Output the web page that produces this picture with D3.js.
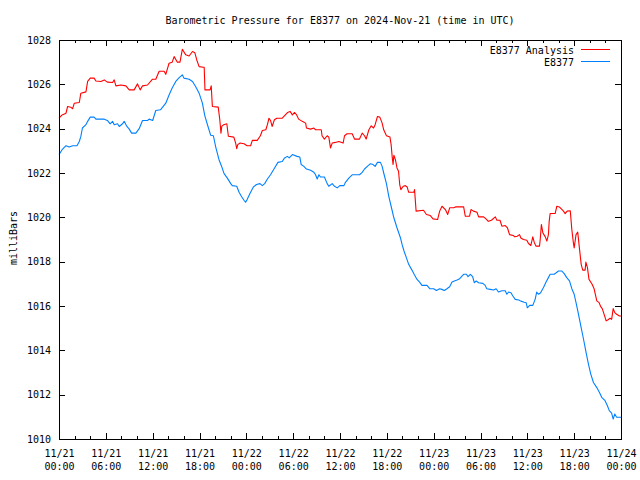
<!DOCTYPE html>
<html>
<head>
<meta charset="utf-8">
<script src="https://cdn.jsdelivr.net/npm/d3@7"></script>
<style>
  html, body { margin: 0; padding: 0; background: #fff; }
  svg { display: block; }
  text { font-family: "DejaVu Sans Mono", "Liberation Mono", monospace; font-size: 10px; fill: #000; }
</style>
</head>
<body>
<svg id="chart" width="640" height="480"></svg>
<script>
// ---- Data (hours since 2024-11-21 00:00 UTC) ----
const chartTitle = "Barometric Pressure for E8377 on 2024-Nov-21 (time in UTC)";
const yLabel = "milliBars";
const seriesNames = ["E8377 Analysis", "E8377"];

const analysisHours = [0,0.4,0.9,1.1,1.5,1.75,1.96,2.6,2.8,3.45,3.67,4.0,4.5,4.73,5.37,5.8,6.2,6.86,7.07,7.29,7.93,8.57,9.0,9.63,10.06,10.4,10.7,11.34,11.98,12.4,12.83,13.47,13.68,14.1,14.5,14.75,15.17,15.5,15.8,16.24,16.67,17.1,17.4,17.65,17.95,18.5,18.6,18.7,19.35,19.5,19.65,20.4,20.6,20.75,20.85,21.1,21.5,21.7,22.4,22.63,22.77,22.9,23.2,23.7,24.1,24.55,24.77,25.4,25.8,26.05,26.5,26.7,26.9,27.1,27.3,27.6,27.9,28.6,29.0,29.3,29.6,29.9,30.18,30.45,30.7,31.16,31.6,31.7,32.23,32.66,32.87,33.6,33.7,34.0,34.36,34.57,34.78,35.0,35.4,35.85,36.4,36.58,36.9,37.56,37.86,38.5,38.84,39.14,39.35,39.7,40.0,40.3,40.5,40.8,41.1,41.4,41.6,41.95,42.4,42.55,42.7,42.8,42.9,43.1,43.3,43.5,43.65,43.8,44.1,44.38,44.6,44.8,45.45,45.55,45.75,46.7,47.07,47.57,47.92,48.5,48.77,49.07,49.5,49.8,50.05,50.56,50.8,51.84,52.05,52.6,52.78,53.1,53.55,53.76,54.4,54.7,55.0,55.4,55.9,56.1,56.5,56.74,57.17,57.46,57.72,58.2,58.4,58.7,59.0,59.17,59.5,59.94,60.15,60.45,60.7,60.88,61.1,61.56,61.65,61.8,61.99,62.3,62.5,62.7,62.8,62.92,63.56,63.78,64.1,64.63,64.85,65.1,65.5,65.7,65.9,66.0,66.24,66.46,66.6,66.76,66.9,67.1,67.4,67.5,67.7,67.9,68.3,68.55,68.9,69.2,69.4,69.6,69.83,70.1,70.35,70.6,70.8,71.0,71.2,71.44,71.8,72.0];
const analysisValues = [1024.47,1024.62,1024.7,1025.0,1024.97,1024.9,1025.15,1025.18,1025.6,1025.66,1026.13,1026.28,1026.28,1026.15,1026.13,1026.2,1026.1,1026.08,1026.2,1025.93,1025.97,1025.93,1025.75,1025.75,1026.02,1025.75,1025.93,1025.97,1026.23,1026.23,1026.59,1026.59,1026.45,1026.95,1027.0,1027.25,1027.0,1027.0,1027.58,1027.33,1027.28,1027.48,1027.43,1027.1,1026.8,1026.77,1026.77,1025.75,1025.75,1025.93,1025.0,1024.97,1024.4,1023.8,1024.1,1024.18,1024.22,1023.66,1023.62,1023.35,1023.1,1023.28,1023.35,1023.32,1023.23,1023.23,1023.47,1023.47,1023.68,1023.92,1023.95,1024.18,1024.47,1024.37,1024.1,1024.4,1024.47,1024.47,1024.62,1024.73,1024.78,1024.62,1024.73,1024.62,1024.43,1024.33,1024.25,1024.03,1023.98,1024.03,1023.95,1023.95,1023.68,1023.53,1023.68,1023.62,1023.13,1023.35,1023.38,1023.42,1023.35,1023.68,1023.77,1023.77,1023.53,1023.53,1023.8,1023.68,1023.53,1023.95,1024.13,1024.03,1024.18,1024.55,1024.52,1024.25,1023.95,1023.68,1023.62,1023.28,1022.68,1022.38,1022.8,1022.6,1022.23,1022.08,1021.48,1021.25,1021.4,1021.43,1021.37,1021.13,1021.13,1021.25,1020.28,1020.32,1020.13,1020.08,1019.93,1019.9,1020.28,1020.5,1020.35,1020.13,1020.43,1020.43,1020.47,1020.47,1020.05,1020.05,1020.35,1020.28,1020.23,1020.02,1020.02,1019.93,1019.82,1019.87,1020.02,1019.87,1019.87,1019.6,1019.63,1019.52,1019.22,1019.18,1019.12,1019.15,1019.22,1019.07,1019.0,1018.97,1018.82,1018.73,1019.12,1018.88,1018.7,1018.7,1019.0,1019.68,1019.3,1019.12,1018.93,1019.22,1019.82,1020.17,1020.17,1020.5,1020.47,1020.28,1020.17,1020.28,1020.3,1019.45,1018.85,1018.62,1019.22,1019.33,1018.85,1018.33,1017.88,1017.62,1017.62,1017.98,1017.73,1017.2,1016.98,1016.78,1016.23,1016.15,1015.97,1015.88,1015.63,1015.33,1015.38,1015.45,1015.4,1015.88,1015.7,1015.63,1015.55,1015.55];

const stationHours = [0,0.4,0.9,1.3,1.75,2.3,2.6,2.8,3.0,3.45,3.67,4.0,4.5,4.73,5.8,6.2,6.55,6.86,7.07,7.5,7.72,8.14,8.35,8.7,9.0,9.3,9.85,10.27,10.7,11.34,11.55,12.0,12.4,13.0,13.68,14.1,14.5,14.96,15.4,15.8,16.0,16.67,17.1,17.5,17.95,18.37,18.67,19.0,19.44,19.78,20.08,20.5,20.8,21.15,21.57,22.0,22.2,22.77,23.07,23.36,23.7,23.9,24.1,24.5,24.9,25.3,25.75,26.05,26.35,26.7,27.1,27.54,28.05,28.6,28.9,29.25,29.5,29.9,30.5,30.85,31.03,31.37,31.7,32.23,32.66,32.87,33.08,33.3,33.5,34.0,34.36,34.57,35.0,35.3,35.64,35.98,36.5,36.7,37.13,37.56,38.5,38.84,39.14,39.5,39.9,40.24,40.5,40.8,41.18,41.4,41.6,41.95,42.25,42.55,42.9,43.3,43.74,43.95,44.2,44.5,44.8,45.2,45.5,45.87,46.2,46.5,47.15,47.5,48.0,48.35,48.77,49.05,49.36,49.7,50.05,50.35,50.65,51.0,51.33,51.63,51.84,52.2,52.4,52.7,53.0,53.2,53.45,53.76,54.3,54.6,54.8,55.25,55.68,56.0,56.3,56.74,57.17,57.38,57.6,57.9,58.15,58.45,58.9,59.17,59.6,59.85,60.0,60.3,60.7,61.0,61.2,61.43,61.7,62.07,62.4,62.7,62.92,63.43,63.7,63.99,64.4,64.7,65.05,65.4,65.7,66.0,66.24,66.55,66.85,67.2,67.53,67.83,68.13,68.47,68.9,69.24,69.53,69.96,70.26,70.5,70.8,71.0,71.2,71.44,71.8,72.0];
const stationValues = [1022.83,1023.05,1023.23,1023.17,1023.23,1023.23,1023.42,1023.65,1024.03,1024.18,1024.33,1024.52,1024.52,1024.43,1024.43,1024.37,1024.22,1024.33,1024.18,1024.22,1024.1,1024.22,1024.33,1024.1,1023.98,1023.8,1023.8,1024.0,1024.37,1024.37,1024.43,1024.37,1024.82,1024.85,1025.15,1025.52,1025.83,1026.13,1026.3,1026.43,1026.28,1026.23,1026.13,1025.9,1025.6,1025.15,1024.6,1024.2,1023.7,1023.68,1023.17,1022.6,1022.33,1021.97,1021.77,1021.52,1021.43,1021.4,1021.13,1020.95,1020.77,1020.68,1020.8,1021.1,1021.37,1021.48,1021.52,1021.43,1021.52,1021.73,1021.92,1022.18,1022.48,1022.52,1022.68,1022.75,1022.68,1022.83,1022.75,1022.72,1022.38,1022.3,1022.18,1022.12,1022.03,1021.92,1021.73,1021.92,1021.82,1021.82,1021.52,1021.4,1021.52,1021.4,1021.33,1021.43,1021.43,1021.58,1021.77,1021.92,1021.92,1022.03,1022.18,1022.3,1022.42,1022.38,1022.3,1022.48,1022.48,1022.3,1022.0,1021.52,1020.95,1020.5,1019.98,1019.53,1019.08,1018.78,1018.48,1018.18,1017.88,1017.63,1017.43,1017.2,1017.08,1016.93,1016.93,1016.78,1016.78,1016.7,1016.78,1016.75,1016.7,1016.78,1016.87,1017.08,1017.13,1017.17,1017.23,1017.35,1017.43,1017.43,1017.32,1017.43,1017.32,1017.05,1017.13,1017.05,1017.02,1016.93,1016.78,1016.75,1016.72,1016.78,1016.63,1016.69,1016.69,1016.53,1016.63,1016.6,1016.45,1016.3,1016.27,1016.22,1016.17,1016.15,1015.92,1016.03,1016.03,1016.3,1016.63,1016.53,1016.6,1016.83,1017.08,1017.28,1017.43,1017.43,1017.5,1017.58,1017.58,1017.47,1017.28,1017.13,1016.78,1016.53,1016.15,1015.63,1015.1,1014.5,1013.9,1013.38,1012.93,1012.55,1012.32,1012.1,1011.88,1011.73,1011.5,1011.28,1011.17,1010.9,1011.13,1010.98,1010.98,1010.98];

const xMajorTicks = [0,6,12,18,24,30,36,42,48,54,60,66,72];
const xTickDates = ["11/21","11/21","11/21","11/21","11/22","11/22","11/22","11/22","11/23","11/23","11/23","11/23","11/24"];
const xTickTimes = ["00:00","06:00","12:00","18:00","00:00","06:00","12:00","18:00","00:00","06:00","12:00","18:00","00:00"];
const xMinorTicks = d3.range(0, 73, 2);
const yTicks = [1010,1012,1014,1016,1018,1020,1022,1024,1026,1028];
const seriesColors = ["#ff0000", "#0080ff"];

// ---- Layout ----
const plotLeft = 59, plotRight = 621, plotTop = 40, plotBottom = 439;
const svg = d3.select("#chart");

const x = d3.scaleLinear().domain([0, 72]).range([plotLeft, plotRight]);
const y = d3.scaleLinear().domain([1010, 1028]).range([plotBottom, plotTop]);

// Title
svg.append("text").attr("x", 340).attr("y", 23.5).attr("text-anchor", "middle").text(chartTitle);

// Y label
svg.append("text")
  .attr("transform", "translate(13,238) rotate(-90)")
  .attr("text-anchor", "middle").attr("dominant-baseline", "central")
  .text(yLabel);

// Series lines
const series = [
  {hours: analysisHours, values: analysisValues},
  {hours: stationHours, values: stationValues}
];
const lineGen = d3.line().x(d => x(d[0])).y(d => y(d[1]));
series.forEach((s, i) => {
  const pts = s.hours.map((h, j) => [h, s.values[j]]);
  svg.append("path").attr("d", lineGen(pts))
    .attr("fill", "none").attr("stroke", seriesColors[i]).attr("stroke-width", 1.1)
    .attr("stroke-linejoin", "round");
});

// Axes
function styleAxis(g) {
  g.selectAll("path.domain").remove();
  g.selectAll("line").attr("stroke", "#000").attr("shape-rendering", "crispEdges");
}
const gB = svg.append("g").attr("transform", `translate(0,${plotBottom})`)
  .call(d3.axisBottom(x).tickValues(xMajorTicks).tickSize(-6).tickFormat(""));
styleAxis(gB);
gB.selectAll(".tick text").remove();
gB.selectAll(".tick").each(function(d, i) {
  const t = d3.select(this).append("text").attr("text-anchor", "middle").attr("fill", "#000");
  t.append("tspan").attr("x", 0).attr("y", 18).text(xTickDates[i]);
  t.append("tspan").attr("x", 0).attr("y", 31).text(xTickTimes[i]);
});
const gBm = svg.append("g").attr("transform", `translate(0,${plotBottom})`)
  .call(d3.axisBottom(x).tickValues(xMinorTicks).tickSize(-3).tickFormat(""));
styleAxis(gBm);
const gT = svg.append("g").attr("transform", `translate(0,${plotTop})`)
  .call(d3.axisTop(x).tickValues(xMajorTicks).tickSize(-6).tickFormat(""));
styleAxis(gT);
const gTm = svg.append("g").attr("transform", `translate(0,${plotTop})`)
  .call(d3.axisTop(x).tickValues(xMinorTicks).tickSize(-3).tickFormat(""));
styleAxis(gTm);
const gL = svg.append("g").attr("transform", `translate(${plotLeft},0)`)
  .call(d3.axisLeft(y).tickValues(yTicks).tickSize(-6).tickPadding(8).tickFormat(d3.format("d")));
styleAxis(gL);
const gR = svg.append("g").attr("transform", `translate(${plotRight},0)`)
  .call(d3.axisRight(y).tickValues(yTicks).tickSize(-6).tickFormat(""));
styleAxis(gR);
svg.selectAll(".tick text").attr("fill", "#000")
  .style("font-size", "10px").style("font-family", '"DejaVu Sans Mono", monospace');

// Frame
svg.append("rect").attr("x", plotLeft + 0.5).attr("y", plotTop + 0.5)
  .attr("width", plotRight - plotLeft).attr("height", plotBottom - plotTop)
  .attr("fill", "none").attr("stroke", "#000").attr("shape-rendering", "crispEdges");

// Legend
const legendY = [50, 62];
seriesNames.forEach((name, i) => {
  svg.append("text").attr("x", 574).attr("y", legendY[i] + 0.5)
    .attr("text-anchor", "end").attr("dominant-baseline", "central").text(name);
  svg.append("line").attr("x1", 581).attr("x2", 610)
    .attr("y1", legendY[i] - 0.5).attr("y2", legendY[i] - 0.5)
    .attr("stroke", seriesColors[i]).attr("shape-rendering", "crispEdges");
});
</script>
</body>
</html>
